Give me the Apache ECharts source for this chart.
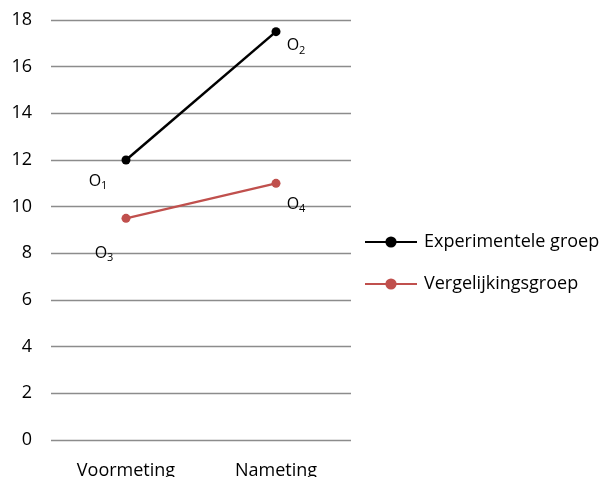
<!DOCTYPE html>
<html>
<head>
<meta charset="utf-8">
<script src="https://cdn.jsdelivr.net/npm/echarts@6/dist/echarts.min.js"></script>
<style>
  html, body { margin: 0; padding: 0; background: #fff; }
  #chart { width: 605px; height: 477px; }
</style>
</head>
<body>
<div id="chart"></div>
<script>
// Measurement moments and group scores
const categories = ['Voormeting', 'Nameting'];
const experimenteel = [12, 17.5];
const vergelijking = [9.5, 11];
const seriesNames = ['Experimentele groep', 'Vergelijkingsgroep'];
// Observation labels (O with subscript)
const expLabels = ['1', '2'];
const vglLabels = ['3', '4'];

const FONT = '"Open Sans", "Liberation Sans", sans-serif';

const richStyle = {
  o: { fontSize: 16, color: '#000', fontFamily: FONT, lineHeight: 20 },
  s: { fontSize: 11, color: '#000', fontFamily: FONT, lineHeight: 20, padding: [10, 0, 0, 0] }
};

function pointData(values, subs, offsets) {
  return values.map((v, i) => ({
    value: v,
    label: {
      show: true,
      position: 'inside',
      offset: offsets[i],
      formatter: '{o|O}{s|' + subs[i] + '}',
      rich: richStyle
    }
  }));
}

const chart = echarts.init(document.getElementById('chart'));
chart.setOption({
  animation: false,
  textStyle: { fontFamily: FONT },
  grid: {
    left: 51, top: 20, width: 300, height: 420,
    containLabel: false,
    outerBoundsMode: 'none'
  },
  xAxis: {
    type: 'category',
    data: categories,
    boundaryGap: true,
    axisLine: { show: false },
    axisTick: { show: false },
    axisLabel: { color: '#000', fontSize: 18, fontFamily: FONT, margin: 22 }
  },
  yAxis: {
    type: 'value',
    min: 0, max: 18, interval: 2,
    axisLine: { show: false },
    axisTick: { show: false },
    axisLabel: { color: '#000', fontSize: 18, fontFamily: FONT, margin: 19 },
    splitLine: { lineStyle: { color: '#8c8c8c', width: 1.3 } }
  },
  legend: {
    orient: 'vertical',
    left: 359, top: 228,
    itemGap: 24,
    itemWidth: 52, itemHeight: 14,
    textStyle: { color: '#000', fontSize: 18, fontFamily: FONT, padding: [0, 0, 0, 2] },
    data: seriesNames
  },
  series: [
    {
      name: seriesNames[0],
      type: 'line',
      data: pointData(experimenteel, expLabels, [[-28, 21], [20, 14]]),
      symbol: 'circle', symbolSize: 9,
      lineStyle: { color: '#000', width: 2.5 },
      itemStyle: { color: '#000' }
    },
    {
      name: seriesNames[1],
      type: 'line',
      data: pointData(vergelijking, vglLabels, [[-22, 35], [20, 21]]),
      symbol: 'circle', symbolSize: 9,
      lineStyle: { color: '#c0504d', width: 2.2 },
      itemStyle: { color: '#c0504d' }
    }
  ]
});
</script>
</body>
</html>
